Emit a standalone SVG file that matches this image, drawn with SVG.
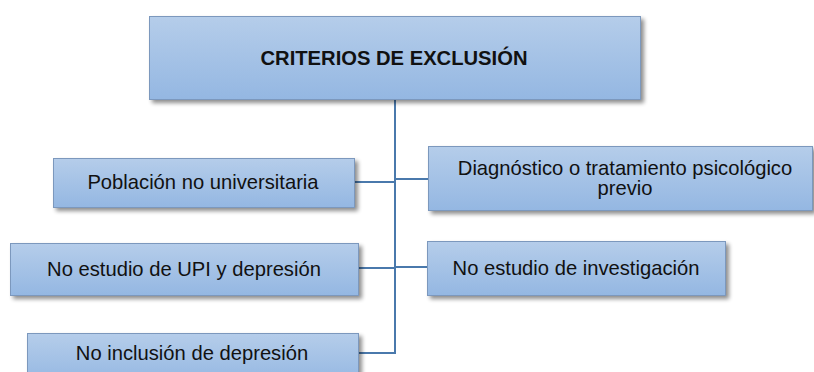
<svg xmlns="http://www.w3.org/2000/svg" width="814" height="372" viewBox="0 0 814 372">
<defs>
<linearGradient id="g" x1="0" y1="0" x2="0" y2="1">
<stop offset="0" stop-color="#b5cdea"/>
<stop offset="1" stop-color="#94b7e2"/>
</linearGradient>
<filter id="sh" x="-5%" y="-10%" width="115%" height="140%">
<feGaussianBlur in="SourceAlpha" stdDeviation="2"/>
<feOffset dx="3" dy="3" result="b"/>
<feComponentTransfer><feFuncA type="linear" slope="0.45"/></feComponentTransfer>
<feMerge><feMergeNode/><feMergeNode in="SourceGraphic"/></feMerge>
</filter>
</defs>
<style>
.box{fill:url(#g);stroke:#7c98bd;stroke-width:1;filter:url(#sh)}
.t{font-family:"Liberation Sans",Arial,sans-serif;font-size:20.2px;fill:#111;text-anchor:middle}
.b{font-weight:bold}
.c{stroke:#4a79ac;stroke-width:2;fill:none}
</style>
<rect width="814" height="372" fill="#fff"/>
<g id="connectors">
<path class="c" d="M395 99 V353 H358"/>
<path class="c" d="M354 182 H395"/>
<path class="c" d="M358 268 H395"/>
<path class="c" d="M395 179 H428"/>
<path class="c" d="M395 267 H427"/>
</g>
<g id="n0"><rect class="box" x="149.5" y="16.5" width="491" height="83"/><text class="t b" x="394" y="65">CRITERIOS DE EXCLUSIÓN</text></g>
<g id="n1"><rect class="box" x="53.5" y="158.5" width="301" height="49"/><text class="t" x="203" y="189">Población no universitaria</text></g>
<g id="n2"><rect class="box" x="10.5" y="243.5" width="348" height="52"/><text class="t" x="184" y="276">No estudio de UPI y depresión</text></g>
<g id="n3"><rect class="box" x="27.5" y="333.5" width="331" height="50"/><text class="t" x="192" y="360">No inclusión de depresión</text></g>
<g id="n4"><rect class="box" x="428.5" y="146.5" width="384" height="64"/><text class="t" x="625" y="175">Diagnóstico o tratamiento psicológico</text><text class="t" x="625" y="195">previo</text></g>
<g id="n5"><rect class="box" x="427.5" y="241.5" width="298" height="54"/><text class="t" x="576" y="275">No estudio de investigación</text></g>
</svg>
